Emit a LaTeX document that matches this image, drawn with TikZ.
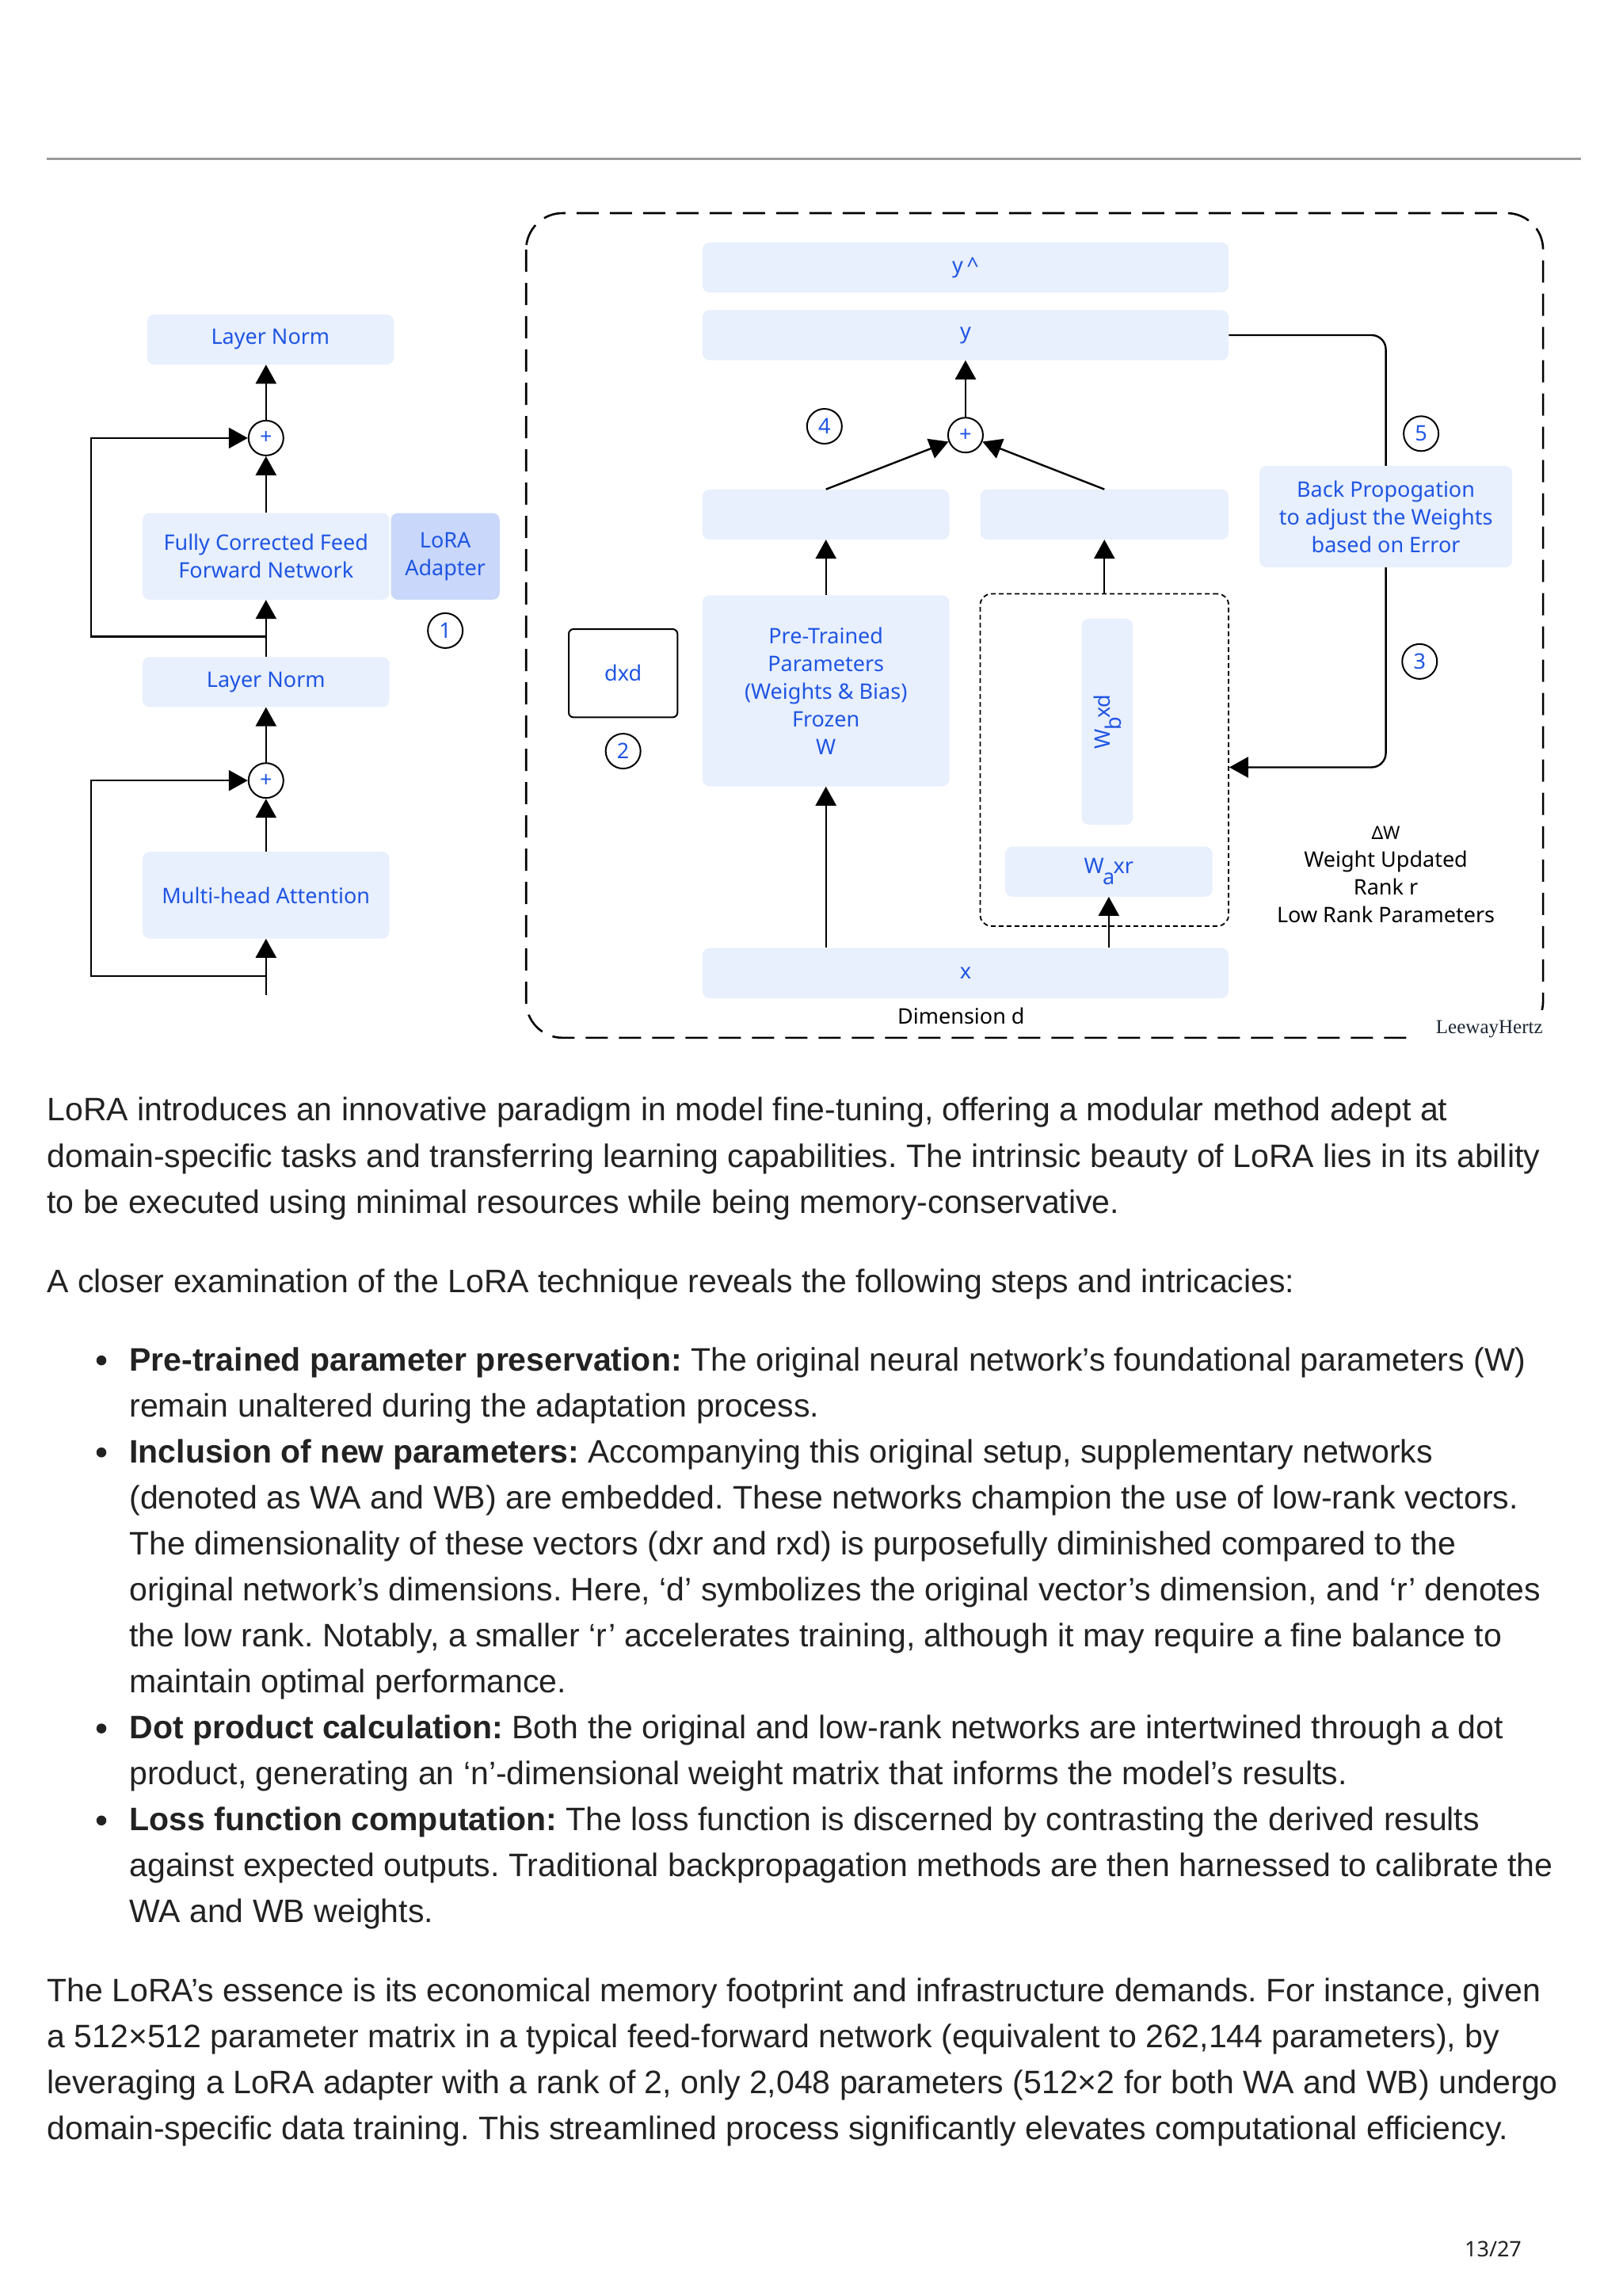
\documentclass[tikz,border=0pt]{standalone}
\usepackage{fontspec}
\usepackage{graphicx}
\setmainfont{Liberation Sans}
\newfontfamily\notof{Noto Sans}
\newfontfamily\serf{Liberation Serif}
\usetikzlibrary{arrows.meta}
\definecolor{boxblue}{HTML}{E8EFFD}
\definecolor{lorablue}{HTML}{C9D7FA}
\definecolor{txtblue}{HTML}{1E55E3}
\definecolor{bodytext}{HTML}{222222}
\definecolor{rulegray}{HTML}{9A9A9A}
\definecolor{logoink}{HTML}{1B2430}
\def\U{1.8551pt}
\newcommand\dfont{\notof\fontsize{27}{35}\selectfont}
\newcommand\bfont{\fontsize{41}{58}\selectfont}
\newcommand\sub[1]{\hspace{-0.06em}\raisebox{-0.95ex}{#1}\hspace{-0.06em}}
\frenchspacing
\tikzset{
  bx/.style={rectangle, fill=boxblue, rounded corners=9pt, inner sep=0pt, text=txtblue, font=\dfont, align=center},
  num/.style={circle, draw=black, line width=2pt, minimum size=44pt, inner sep=0pt, text=txtblue, font=\dfont},
  plusc/.style={circle, draw=black, line width=2pt, minimum size=44pt, inner sep=0pt, text=txtblue, font=\dfont},
  arr/.style={line width=2.4pt, -{Triangle[length=24pt,width=26pt]}},
  body/.style={anchor=base west, inner sep=0pt, font=\bfont, text=bodytext},
  bul/.style={circle, fill=bodytext, minimum size=12.5pt, inner sep=0pt},
  frame/.style={line width=2.6pt, dash pattern=on 28pt off 14pt},
  innerdash/.style={draw, line width=1.8pt, dash pattern=on 6pt off 4pt, rounded corners=14pt, inner sep=0pt},
}
\begin{document}
\begin{tikzpicture}[x=1.8551pt,y=-1.8551pt]
\useasboundingbox (0,0) rectangle (1104,1562);
\fill[white] (0,0) rectangle (1104,1562);
% top rule
\draw[rulegray, line width=3pt] (32,108) -- (1076,108);

% ---------- left column ----------
\node[bx, minimum width=168*\U, minimum height=34*\U] (ln1) at (184,231) {Layer Norm};
\node[plusc] (p1) at (181,298) {+};
\node[bx, minimum width=168*\U, minimum height=59*\U] (ffn) at (181,378.5) {Fully Corrected Feed\\Forward Network};
\node[bx, fill=lorablue, minimum width=74*\U, minimum height=59*\U] (lora) at (303,378.5) {LoRA\\Adapter};
\node[num] (n1) at (303,429) {1};
\node[bx, minimum width=168*\U, minimum height=34*\U] (ln2) at (181,464) {Layer Norm};
\node[plusc] (p2) at (181,531) {+};
\node[bx, minimum width=168*\U, minimum height=59*\U] (mha) at (181,609) {Multi-head Attention};
\coordinate (j1) at (181,433);
\coordinate (k1) at (62,433);
\coordinate (k2) at (62,298);
\coordinate (j2) at (181,664);
\coordinate (k3) at (62,664);
\coordinate (k4) at (62,531);
\coordinate (bot) at (181,677);

\draw[arr] (p1.north) -- (p1.north |- ln1.south);
\draw[arr] (ffn.north) -- (p1.south);
\draw[arr] (ln2.north) -- (ffn.south);
\draw[arr] (j1) -- (k1) -- (k2) -- (p1.west);
\draw[arr] (p2.north) -- (ln2.south);
\draw[arr] (mha.north) -- (p2.south);
\draw[arr] (bot) -- (mha.south);
\draw[arr] (j2) -- (k3) -- (k4) -- (p2.west);

% ---------- right panel ----------
\draw[frame, rounded corners=46pt] (358,145) rectangle (1050,706);

\node[bx, minimum width=358*\U, minimum height=34*\U] (yhat) at (657,182) {y\,\textasciicircum};
\node[bx, minimum width=358*\U, minimum height=34*\U] (ybox) at (657,228) {y};
\node[plusc] (p3) at (657,296) {+};
\node[num] (n4) at (561,290) {4};
\node[bx, minimum width=168*\U, minimum height=34*\U] (lb) at (562,350) {};
\node[bx, minimum width=169*\U, minimum height=34*\U] (rb) at (751.5,350) {};
\node[bx, minimum width=168*\U, minimum height=130*\U] (pre) at (562,470) {Pre-Trained\\Parameters\\(Weights \& Bias)\\Frozen\\W};
\node[draw, line width=2pt, rounded corners=6pt, fill=white, minimum width=74*\U, minimum height=60*\U, inner sep=0pt, text=txtblue, font=\dfont] (dxd) at (424,458) {dxd};
\node[num] (n2) at (424,511) {2};
\node[innerdash, minimum width=169*\U, minimum height=226*\U] (inner) at (751.5,517) {};
\node[bx, minimum width=35*\U, minimum height=140*\U] (wb) at (753.5,491) {\rotatebox{90}{W\sub{b}xd}};
\node[bx, minimum width=141*\U, minimum height=34*\U] (wa) at (754.5,593) {W\sub{a}xr};
\node[bx, minimum width=358*\U, minimum height=34*\U] (xb) at (657,662) {x};
\node[font=\dfont, text=black, inner sep=0pt] (dimd) at (654,691) {Dimension d};

\draw[arr] (p3.north) -- (ybox.south);
\draw[arr] (lb.north) -- (p3);
\draw[arr] (rb.north) -- (p3);
\draw[arr] (pre.north) -- (lb.south);
\draw[arr] (pre.south |- xb.north) -- (pre.south);
\draw[arr] (inner.north) -- (rb.south);
\draw[arr] (wa.south |- xb.north) -- (wa.south);

\coordinate (r1) at (943,228);
\coordinate (r2) at (943,522);
\draw[arr, rounded corners=18pt] (ybox.east) -- (r1) -- (r2) -- (inner.east |- r2);

\node[bx, minimum width=172*\U, minimum height=69*\U] (bp) at (943,351.5) {Back Propogation\\to adjust the Weights\\based on Error};
\node[num] (n5) at (967,295) {5};
\node[num] (n3) at (966,450) {3};
\node[font=\dfont, align=center, text=black, inner sep=0pt] (dw) at (943,595) {{\fontsize{23}{35}\selectfont ΔW}\\Weight Updated\\Rank r\\Low Rank Parameters};

\node[anchor=east, text width=90*\U, align=right, inner xsep=4pt, minimum height=26*\U, fill=white, font=\serf\fontsize{25}{28}\selectfont, text=logoink] (logo) at (1052,700) {LeewayHertz};

% ---------- body text ----------
\node[body] (t1) at (32,762.5) {LoRA introduces an innovative paradigm in model fine-tuning, offering a modular method adept at};
\node[body] (t2) at (32,794) {domain-specific tasks and transferring learning capabilities. The intrinsic beauty of LoRA lies in its ability};
\node[body] (t3) at (32,825.5) {to be executed using minimal resources while being memory-conservative.};
\node[body] (t4) at (32,879.5) {A closer examination of the LoRA technique reveals the following steps and intricacies:};

\node[bul] (bu1) at (69,925.5) {};
\node[body] (s1) at (88,932.5) {\textbf{Pre-trained parameter preservation:} The original neural network’s foundational parameters (W)};
\node[body] (s2) at (88,963.8) {remain unaltered during the adaptation process.};
\node[bul] (bu2) at (69,988.1) {};
\node[body] (s3) at (88,995.1) {\textbf{Inclusion of new parameters:} Accompanying this original setup, supplementary networks};
\node[body] (s4) at (88,1026.4) {(denoted as WA and WB) are embedded. These networks champion the use of low-rank vectors.};
\node[body] (s5) at (88,1057.7) {The dimensionality of these vectors (dxr and rxd) is purposefully diminished compared to the};
\node[body] (s6) at (88,1089) {original network’s dimensions. Here, ‘d’ symbolizes the original vector’s dimension, and ‘r’ denotes};
\node[body] (s7) at (88,1120.3) {the low rank. Notably, a smaller ‘r’ accelerates training, although it may require a fine balance to};
\node[body] (s8) at (88,1151.6) {maintain optimal performance.};
\node[bul] (bu3) at (69,1175.9) {};
\node[body] (s9) at (88,1182.9) {\textbf{Dot product calculation:} Both the original and low-rank networks are intertwined through a dot};
\node[body] (s10) at (88,1214.2) {product, generating an ‘n’-dimensional weight matrix that informs the model’s results.};
\node[bul] (bu4) at (69,1238.5) {};
\node[body] (s11) at (88,1245.5) {\textbf{Loss function computation:} The loss function is discerned by contrasting the derived results};
\node[body] (s12) at (88,1276.8) {against expected outputs. Traditional backpropagation methods are then harnessed to calibrate the};
\node[body] (s13) at (88,1308.1) {WA and WB weights.};

\node[body] (u1) at (32,1361.5) {The LoRA’s essence is its economical memory footprint and infrastructure demands. For instance, given};
\node[body] (u2) at (32,1392.8) {a 512×512 parameter matrix in a typical feed-forward network (equivalent to 262,144 parameters), by};
\node[body] (u3) at (32,1424.1) {leveraging a LoRA adapter with a rank of 2, only 2,048 parameters (512×2 for both WA and WB) undergo};
\node[body] (u4) at (32,1455.4) {domain-specific data training. This streamlined process significantly elevates computational efficiency.};

\node[font=\notof\fontsize{27}{32}\selectfont, text=bodytext] (pg) at (1016,1530) {13/27};
\end{tikzpicture}
\end{document}
